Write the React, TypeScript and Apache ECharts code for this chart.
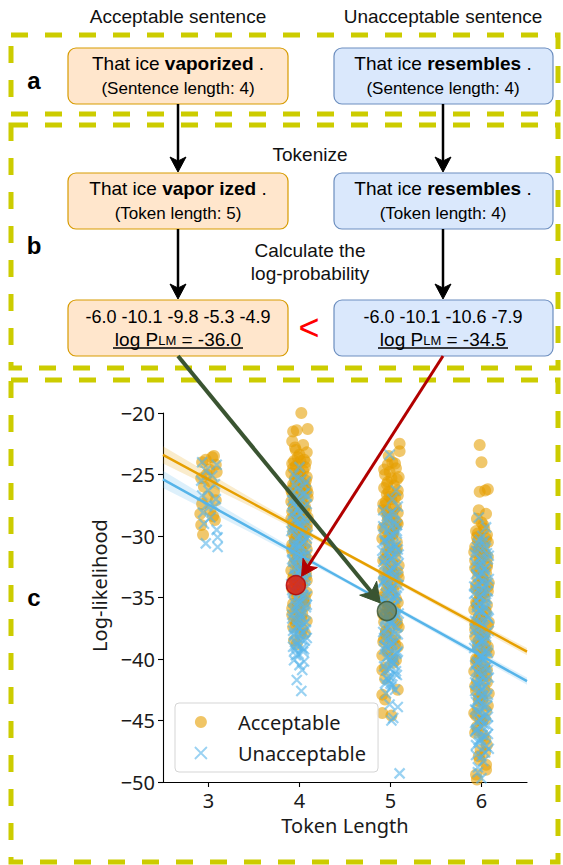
import React, { useEffect, useRef } from "react";
import * as echarts from "echarts";

// ---------------- data ----------------
const columnTitles = ["Acceptable sentence", "Unacceptable sentence"];
const panelLabels = ["a", "b", "c"];
const sentencePrefix = "That ice ";
const acceptableWord = "vaporized";
const unacceptableWord = "resembles";
const acceptableTokens = "vapor ized";
const sentenceLengths = [4, 4];
const tokenLengths = [5, 4];
const acceptableTokenLogProbs = [-6.0, -10.1, -9.8, -5.3, -4.9];
const unacceptableTokenLogProbs = [-6.0, -10.1, -10.6, -7.9];
const sentenceLogProbs = [-36.0, -34.5];
const stepLabels = ["Tokenize", "Calculate the", "log-probability"];

const seriesNames = ["Acceptable", "Unacceptable"];
const xTickValues = [3, 4, 5, 6];
const fitX = [2.5, 3.5, 4.5, 5.5, 6.5];
const acceptableFit = [-23.4, -27.4, -31.4, -35.4, -39.4];
const acceptableCI = [0.7, 0.35, 0.15, 0.2, 0.3];
const unacceptableFit = [-25.4, -29.5, -33.6, -37.7, -41.8];
const unacceptableCI = [0.7, 0.35, 0.15, 0.2, 0.3];

// highlighted example sentences: [token length (jittered), log-likelihood]
const highlightUnacceptable = [3.96, -34.0];
const highlightAcceptable = [4.96, -36.1];

const acceptable3 = [
  [3.06, -23.5], [2.97, -23.8], [3.08, -24.2], [2.93, -24.0], [3.01, -24.6], [3.09, -24.8], [2.92, -25.3],
  [3.03, -25.6], [2.95, -26.0], [3.06, -26.4], [2.99, -26.8], [3.08, -27.1], [2.93, -27.4], [3.02, -27.9],
  [2.91, -28.2], [3.05, -28.4], [3.07, -28.7], [2.92, -29.1], [2.94, -29.9], [3.04, -23.6], [2.98, -25.0],
];
const unacceptable3 = [
  [2.93, -24.0], [3.09, -24.2], [2.97, -24.7], [3.04, -25.1], [2.92, -25.5], [3.07, -25.8], [3.0, -26.3],
  [2.93, -26.7], [3.08, -27.0], [2.98, -27.5], [3.07, -27.6], [2.94, -28.1], [3.02, -28.5], [2.95, -29.0],
  [3.09, -29.5], [3.1, -30.1], [2.97, -30.6], [3.1, -30.9],
];
const acceptable4 = [
  [4.02, -20.0], [3.93, -21.5], [3.97, -21.4], [4.09, -21.3], [3.92, -22.3], [3.95, -22.8], [4.0, -23.4],
  [4.07, -24.0], [3.94, -23.9], [4.08, -23.2], [3.96, -24.3], [4.04, -24.7], [3.91, -24.9], [4.0, -24.8],
  [4.08, -25.2], [3.99, -25.4], [3.95, -25.3], [3.93, -25.8], [4.06, -25.9], [4.06, -26.1], [4.01, -26.3],
  [3.92, -26.5], [3.98, -26.7], [4.09, -26.9], [3.97, -27.1], [4.04, -27.3], [4.03, -27.5], [3.94, -27.7],
  [4.07, -27.9], [3.92, -28.0], [3.99, -28.3], [3.91, -28.6], [4.05, -28.8], [3.96, -29.2], [4.08, -29.4],
  [3.93, -29.8], [4.02, -30.1], [3.95, -30.4], [4.07, -30.6], [3.92, -31.0], [4.03, -31.3], [3.98, -31.5],
  [4.09, -31.9], [3.94, -32.2], [4.05, -32.4], [3.91, -32.8], [4.0, -33.1], [4.07, -33.3], [3.95, -33.7],
  [4.03, -33.9], [3.92, -34.3], [4.08, -34.6], [3.97, -34.8], [4.04, -35.2], [3.93, -35.5], [4.06, -35.7],
  [3.99, -36.1], [3.92, -36.4], [4.08, -36.9], [3.96, -37.2], [4.03, -37.6], [4.01, -38.0], [3.94, -38.5],
  [3.97, -38.8], [3.98, -23.6], [4.05, -23.8], [3.93, -24.5], [4.01, -25.0], [4.07, -25.5], [3.96, -25.6],
  [4.03, -26.0], [3.91, -26.3], [4.09, -26.5], [4.0, -26.9], [3.94, -27.3], [4.06, -27.6], [3.98, -28.1],
  [4.02, -28.4], [3.93, -28.9], [4.08, -29.1], [3.99, -29.6], [4.04, -30.0], [3.95, -30.2], [4.01, -30.8],
  [3.92, -31.2], [4.06, -31.6], [3.97, -32.0], [4.03, -32.6], [3.94, -33.2], [4.08, -33.6], [3.99, -34.1],
  [3.95, -34.9], [4.05, -35.4], [3.92, -35.9], [4.02, -36.6], [3.97, -37.0], [4.06, -37.9], [3.93, -37.4],
  [4.04, -22.6], [3.96, -23.0], [4.01, -23.9], [3.92, -24.1], [4.06, -24.4], [3.98, -25.1], [4.03, -25.7],
  [3.94, -26.0], [4.08, -26.2], [3.97, -26.6], [4.02, -27.0], [3.91, -27.2], [4.05, -27.8], [3.96, -28.2],
  [4.09, -28.5], [4.0, -28.7], [3.93, -29.3], [4.06, -29.7], [3.97, -30.0], [4.03, -30.3], [3.92, -30.7],
  [4.08, -31.1], [3.99, -31.4], [3.95, -31.8], [4.04, -32.3], [3.98, -32.7], [4.07, -33.0], [3.93, -33.4],
  [4.01, -33.8], [3.96, -34.5], [4.06, -35.0], [3.98, -35.6], [4.03, -36.3], [3.94, -36.8],
];
const unacceptable4 = [
  [4.0, -24.4], [3.94, -25.0], [4.07, -25.6], [3.97, -26.2], [4.04, -26.6], [3.95, -26.9], [3.92, -27.1],
  [4.08, -27.4], [3.99, -27.8], [3.93, -28.1], [4.05, -28.5], [3.96, -28.9], [4.0, -29.0], [4.02, -29.2],
  [3.91, -29.6], [4.09, -29.9], [3.98, -30.3], [4.04, -30.5], [3.94, -30.9], [3.96, -31.0], [4.07, -31.2],
  [4.0, -31.6], [3.92, -31.9], [4.05, -32.2], [3.97, -32.6], [4.08, -32.9], [4.03, -33.0], [3.95, -33.3],
  [4.02, -33.5], [3.91, -33.9], [4.06, -34.3], [3.99, -34.6], [4.03, -35.0], [3.93, -35.3], [3.99, -35.5],
  [4.08, -35.6], [3.96, -36.0], [4.01, -36.3], [3.92, -36.7], [4.07, -37.0], [3.98, -37.4], [4.01, -37.5],
  [4.04, -37.8], [3.94, -38.1], [4.06, -38.5], [3.97, -38.9], [3.93, -39.0], [3.95, -39.3], [4.04, -39.4],
  [4.05, -40.2], [4.03, -40.9], [3.97, -41.7], [4.02, -42.6], [3.97, -25.3], [4.05, -25.9], [3.93, -26.4],
  [4.08, -26.8], [4.0, -27.2], [3.95, -27.6], [4.04, -28.0], [3.92, -28.3], [4.07, -28.7], [3.99, -29.1],
  [3.94, -29.5], [4.03, -29.8], [4.08, -30.2], [3.96, -30.6], [4.01, -30.8], [3.92, -31.3], [4.05, -31.6],
  [3.98, -32.0], [4.08, -32.4], [3.94, -32.7], [4.01, -33.2], [4.06, -33.6], [3.97, -34.0], [3.92, -34.4],
  [4.04, -34.8], [3.99, -35.2], [4.07, -35.8], [3.94, -36.1], [4.02, -36.5], [3.97, -36.9], [4.05, -37.2],
  [3.93, -37.7], [4.0, -38.0], [4.08, -38.3], [3.96, -38.6], [4.03, -39.1], [3.99, -39.6], [3.94, -40.1],
  [4.02, -25.4], [3.95, -25.8], [4.06, -26.5], [3.98, -27.0], [3.93, -27.4], [4.04, -27.7], [4.0, -28.2],
  [3.96, -28.6], [4.07, -29.0], [3.92, -29.3], [4.03, -29.7], [3.98, -30.1], [4.06, -30.4], [3.94, -30.7],
  [4.01, -31.1], [4.08, -31.5], [3.97, -31.8], [3.93, -32.1], [4.04, -32.5], [4.0, -32.8], [3.95, -33.1],
  [4.07, -33.4], [3.98, -33.8], [4.03, -34.2], [3.94, -34.5], [4.08, -34.9], [4.0, -35.4], [3.96, -35.7],
  [4.05, -36.2], [3.92, -36.4], [4.01, -36.8], [3.97, -37.3], [4.07, -37.6], [3.94, -38.0], [4.02, -38.4],
  [3.98, -38.8], [4.05, -39.2], [3.96, -39.7], [4.0, -40.5],
];
const acceptable5 = [
  [5.1, -22.5], [5.1, -23.1], [4.97, -24.2], [5.06, -24.5], [4.99, -24.8], [5.09, -25.2], [4.97, -25.6],
  [5.04, -25.9], [4.93, -26.1], [4.98, -26.4], [5.08, -26.7], [5.01, -27.0], [4.95, -27.2], [5.06, -27.6],
  [4.92, -27.9], [4.96, -28.0], [5.02, -28.3], [4.97, -28.7], [5.08, -29.0], [5.05, -29.2], [4.94, -29.4],
  [5.03, -29.8], [4.99, -30.0], [4.91, -30.2], [5.07, -30.5], [4.99, -30.9], [4.95, -31.3], [5.05, -31.7],
  [4.92, -32.0], [5.09, -32.4], [4.98, -32.8], [5.03, -33.1], [4.93, -33.5], [5.07, -33.9], [4.96, -34.3],
  [5.01, -34.7], [4.91, -35.0], [5.08, -35.4], [4.97, -35.8], [5.04, -36.5], [4.93, -37.0], [5.09, -37.4],
  [4.95, -37.8], [5.05, -38.3], [4.92, -38.6], [5.08, -39.0], [4.91, -39.7], [5.03, -40.3], [4.94, -40.7],
  [4.91, -40.9], [4.94, -41.6], [5.08, -42.5], [4.91, -42.9], [4.94, -43.3], [4.91, -44.4], [5.01, -44.6],
  [5.02, -24.0], [4.94, -25.0], [5.07, -25.4], [4.96, -26.6], [5.05, -26.9], [4.92, -27.4], [5.08, -28.1],
  [4.99, -28.5], [5.03, -29.6], [4.95, -30.3], [5.07, -31.0], [4.97, -31.5], [5.02, -32.2], [4.93, -32.9],
  [5.09, -33.4], [5.0, -34.0], [4.94, -34.6], [5.06, -35.1], [4.98, -35.6], [5.03, -36.1], [4.92, -36.4],
  [5.07, -36.9], [4.99, -37.5], [4.95, -38.0], [5.05, -38.8], [4.97, -39.3], [5.02, -39.9], [4.93, -38.4],
  [4.98, -23.5], [5.05, -24.1], [4.93, -24.6], [5.01, -25.3], [4.96, -25.8], [5.08, -26.3], [4.99, -26.8],
  [4.94, -27.5], [5.04, -27.8], [4.97, -28.4], [5.07, -28.9], [4.92, -29.3], [5.02, -29.9], [4.98, -30.6],
  [5.06, -31.2], [4.94, -31.9], [5.01, -32.5], [5.08, -33.0], [4.96, -33.7], [5.03, -34.4], [4.93, -35.2],
  [5.05, -35.9], [4.99, -36.6], [5.07, -37.2], [4.95, -37.7], [5.02, -38.5], [4.97, -39.4], [5.06, -40.1],
];
const unacceptable5 = [
  [4.99, -23.4], [5.06, -26.3], [5.02, -27.0], [5.08, -27.6], [4.92, -27.9], [5.05, -28.2], [4.97, -28.6],
  [5.04, -29.0], [4.93, -29.4], [5.07, -29.8], [4.99, -30.1], [4.95, -30.5], [5.05, -30.9], [5.0, -31.0],
  [4.91, -31.2], [5.09, -31.5], [5.0, -31.9], [4.94, -32.3], [5.03, -32.6], [4.97, -33.0], [5.08, -33.3],
  [4.96, -33.5], [4.92, -33.7], [5.02, -34.1], [4.96, -34.4], [5.06, -34.8], [5.03, -35.0], [4.93, -35.2],
  [5.04, -35.6], [4.98, -35.9], [5.09, -36.3], [4.94, -36.7], [4.99, -36.8], [5.01, -37.0], [5.07, -37.4],
  [4.92, -37.8], [4.99, -38.2], [5.05, -38.6], [4.94, -38.9], [4.95, -39.0], [5.08, -39.4], [4.97, -39.8],
  [5.04, -40.0], [5.02, -40.2], [4.93, -40.6], [5.06, -41.0], [4.98, -41.4], [5.0, -42.0], [4.95, -42.8],
  [4.99, -43.7], [5.08, -43.9], [5.03, -44.8], [5.01, -45.0], [5.1, -49.3], [4.96, -28.4], [5.04, -28.8],
  [4.92, -29.2], [5.07, -29.6], [4.99, -30.0], [4.94, -30.3], [5.03, -30.7], [5.08, -31.1], [4.96, -31.4],
  [5.01, -31.8], [4.92, -32.1], [5.06, -32.5], [4.98, -32.9], [5.04, -33.2], [4.93, -33.6], [5.09, -34.0],
  [5.0, -34.3], [4.95, -34.7], [5.05, -35.1], [4.97, -35.4], [5.02, -35.8], [4.92, -36.1], [5.07, -36.5],
  [4.99, -36.9], [5.04, -37.3], [4.94, -37.6], [5.08, -38.0], [4.97, -38.4], [5.02, -38.8], [4.93, -39.2],
  [5.06, -39.6], [4.99, -40.0], [5.03, -40.4], [4.95, -40.9], [5.07, -41.3], [4.98, -41.7], [5.01, -42.3],
  [4.94, -42.0], [5.05, -42.5], [5.01, -28.1], [4.95, -28.7], [5.07, -29.1], [4.98, -29.5], [5.03, -29.9],
  [4.93, -30.4], [5.06, -30.8], [4.99, -31.2], [5.04, -31.6], [4.94, -31.9], [5.08, -32.3], [5.0, -32.7],
  [4.96, -33.1], [5.05, -33.4], [4.92, -33.8], [5.02, -34.2], [4.98, -34.6], [5.07, -34.9], [4.94, -35.3],
  [5.03, -35.7], [4.99, -36.0], [5.06, -36.4], [4.95, -36.8], [5.01, -37.2], [4.97, -37.5], [5.05, -37.9],
  [4.93, -38.3], [5.02, -38.7], [4.98, -39.1], [5.07, -39.5], [4.95, -39.9], [5.03, -40.3], [4.99, -40.8],
  [5.05, -41.2], [4.96, -41.6], [5.02, -42.1],
];
const acceptable6 = [
  [5.98, -22.6], [6.0, -24.0], [5.98, -26.4], [6.04, -26.3], [6.07, -26.2], [5.97, -27.9], [6.05, -28.2],
  [5.95, -28.6], [6.02, -29.1], [5.94, -29.6], [6.06, -29.9], [5.96, -30.4], [6.03, -30.8], [5.99, -31.0],
  [5.92, -31.3], [6.07, -31.7], [5.99, -32.1], [5.93, -32.6], [6.05, -33.0], [6.01, -33.2], [5.96, -33.4],
  [6.08, -33.8], [5.94, -34.3], [6.02, -34.7], [5.97, -35.2], [6.06, -35.6], [5.96, -35.8], [5.92, -36.0],
  [6.01, -36.5], [5.95, -36.9], [6.07, -37.3], [5.98, -37.8], [6.03, -38.0], [5.93, -38.2], [6.04, -38.7],
  [5.96, -39.1], [6.08, -39.5], [5.94, -40.0], [6.03, -40.5], [5.98, -40.8], [5.92, -41.0], [6.05, -41.4],
  [5.93, -42.2], [6.08, -42.8], [6.0, -43.0], [5.97, -43.4], [5.92, -44.4], [6.04, -44.9], [5.95, -45.5],
  [6.02, -46.2], [6.06, -47.0], [5.97, -47.9], [6.05, -48.6], [5.94, -49.4], [5.95, -49.8], [6.03, -29.4],
  [5.95, -30.1], [6.07, -30.5], [5.97, -31.1], [6.04, -31.5], [5.93, -32.0], [6.06, -32.5], [5.98, -32.9],
  [6.02, -33.6], [5.94, -34.0], [6.07, -34.5], [5.99, -34.9], [5.95, -35.5], [6.04, -36.1], [5.97, -36.6],
  [6.08, -37.0], [5.93, -37.6], [6.02, -38.4], [5.96, -38.9], [6.05, -39.3], [5.98, -39.8], [5.94, -40.3],
  [6.06, -40.9], [6.0, -41.3], [5.95, -41.8], [6.03, -42.4], [5.97, -43.1], [6.07, -43.8], [5.94, -44.6],
  [6.01, -45.1], [5.96, -45.8], [6.04, -46.5], [5.99, -47.4], [6.05, -49.0], [6.0, -28.9], [5.96, -29.8],
  [6.05, -30.2], [5.93, -30.9], [6.02, -31.4], [5.98, -31.9], [6.06, -32.3], [5.95, -32.8], [6.01, -33.5],
  [6.07, -34.1], [5.97, -34.6], [6.03, -35.0], [5.94, -35.4], [6.05, -36.2], [5.99, -36.8], [5.93, -37.2],
  [6.04, -37.9], [5.97, -38.5], [6.07, -39.0], [6.0, -39.6], [5.95, -40.1], [6.03, -40.6], [5.98, -41.2],
  [6.06, -41.9], [5.94, -42.6], [6.01, -43.3], [5.96, -44.0], [6.05, -44.2], [5.99, -45.0], [5.93, -46.0],
  [6.04, -47.6], [5.98, -48.2],
];
const unacceptable6 = [
  [6.01, -30.0], [5.96, -30.6], [6.05, -31.0], [5.93, -31.5], [6.07, -31.9], [5.99, -32.3], [6.03, -32.7],
  [5.94, -33.1], [6.08, -33.5], [5.97, -33.9], [6.04, -34.0], [6.02, -34.3], [5.92, -34.7], [6.06, -35.1],
  [5.98, -35.5], [6.04, -35.9], [5.98, -36.0], [5.95, -36.3], [6.08, -36.7], [6.0, -37.1], [5.93, -37.5],
  [6.05, -37.9], [5.97, -38.3], [6.01, -38.5], [6.03, -38.7], [5.92, -39.1], [6.07, -39.5], [5.99, -39.9],
  [6.02, -40.0], [5.95, -40.3], [6.04, -40.7], [5.96, -41.1], [6.08, -41.5], [5.93, -41.9], [5.95, -42.0],
  [6.02, -42.3], [5.98, -42.7], [6.06, -43.1], [5.94, -43.5], [6.03, -43.9], [5.97, -44.3], [6.07, -44.7],
  [5.95, -45.1], [6.01, -45.5], [5.93, -45.9], [6.05, -46.3], [5.97, -46.8], [6.08, -47.3], [5.94, -47.8],
  [6.02, -48.3], [5.96, -48.8], [6.0, -49.7], [5.98, -30.3], [6.04, -30.8], [5.94, -31.2], [6.08, -31.6],
  [6.0, -32.0], [5.95, -32.5], [6.05, -32.9], [5.97, -33.3], [6.02, -33.7], [5.92, -34.1], [6.07, -34.5],
  [5.99, -34.9], [5.94, -35.3], [6.04, -35.7], [5.97, -36.1], [6.06, -36.5], [5.93, -36.9], [6.01, -37.3],
  [6.08, -37.7], [5.96, -38.1], [6.03, -38.5], [5.94, -38.9], [6.06, -39.3], [5.98, -39.7], [6.02, -40.1],
  [5.93, -40.5], [6.07, -40.9], [5.99, -41.3], [6.04, -41.7], [5.95, -42.1], [6.0, -42.5], [6.07, -42.9],
  [5.96, -43.3], [6.02, -43.7], [5.93, -44.1], [6.05, -44.5], [5.98, -44.9], [6.03, -45.3], [5.95, -45.7],
  [6.07, -46.1], [5.99, -46.5], [5.94, -47.0], [6.04, -47.6], [5.97, -28.5], [6.05, -29.3], [6.03, -30.4],
  [5.95, -30.9], [6.06, -31.4], [5.98, -31.8], [5.93, -32.2], [6.04, -32.6], [6.0, -33.0], [5.96, -33.4],
  [6.07, -33.8], [5.94, -34.2], [6.02, -34.6], [5.98, -35.0], [6.05, -35.4], [5.95, -35.8], [6.01, -36.2],
  [6.07, -36.6], [5.97, -37.0], [6.03, -37.4], [5.93, -37.8], [6.05, -38.2], [5.99, -38.6], [5.95, -39.0],
  [6.04, -39.4], [6.0, -39.8], [5.96, -40.2], [6.06, -40.6], [5.94, -41.0], [6.02, -41.4], [5.98, -41.8],
  [6.05, -42.2], [5.93, -42.6], [6.01, -43.0], [5.97, -43.4], [6.06, -43.8], [5.95, -44.2], [6.03, -44.6],
  [5.99, -45.0], [6.07, -45.4], [5.94, -45.8], [6.01, -46.2], [5.97, -46.6], [6.05, -47.1], [6.0, -47.9],
  [5.96, -49.2],
];

// ---------------- styles ----------------
const ORANGE = "#E69F00";
const BLUE = "#56B4E9";
const DASH = "#CCCC00";
const BOX_ORANGE = { fill: "#FFE6CC", stroke: "#D79B00" };
const BOX_BLUE = { fill: "#DAE8FC", stroke: "#6C8EBF" };
const SANS = "'Liberation Sans', Arial, Helvetica, sans-serif";
const PLOT_FONT = "'Noto Sans', 'Open Sans', sans-serif";
const X_PATH = "path://M0,0L10,10M10,0L0,10";

const fmt = (v: number) => v.toFixed(1);
const minus = (v: number) => (v < 0 ? "\u2212" + Math.abs(v) : String(v));

function arrowParts(x1: number, y1: number, tx: number, ty: number, color: string, lw: number, L: number, Wd: number, N: number) {
  const dx = tx - x1, dy = ty - y1;
  const len = Math.hypot(dx, dy);
  const ux = dx / len, uy = dy / len;
  const nx = -uy, ny = ux;
  const pts = [
    [tx, ty],
    [tx - L * ux + Wd * nx, ty - L * uy + Wd * ny],
    [tx - (L - N) * ux, ty - (L - N) * uy],
    [tx - L * ux - Wd * nx, ty - L * uy - Wd * ny],
  ];
  return [
    { type: "line", z: 100, shape: { x1, y1, x2: tx - (L - N) * ux, y2: ty - (L - N) * uy }, style: { stroke: color, lineWidth: lw } },
    { type: "polygon", z: 101, shape: { points: pts }, style: { fill: color, stroke: color, lineWidth: 1 } },
  ];
}

function box(x: number, y: number, w: number, h: number, c: { fill: string; stroke: string }) {
  return { type: "rect", z: 90, shape: { x, y, width: w, height: h, r: 8 }, style: { fill: c.fill, stroke: c.stroke, lineWidth: 1.2 } };
}

function richLine(x: number, y: number, parts: [string, string][], size: number) {
  return {
    type: "text",
    z: 100,
    x,
    y,
    style: {
      text: parts.map(([k, t]) => `{${k}|${t}}`).join(""),
      align: "center",
      verticalAlign: "middle",
      fontFamily: SANS,
      fontSize: size,
      fill: "#000",
      rich: {
        n: { fontFamily: SANS, fontSize: size, fill: "#000", verticalAlign: "bottom" },
        b: { fontFamily: SANS, fontSize: size, fontWeight: "bold", fill: "#000", verticalAlign: "bottom" },
        s: { fontFamily: SANS, fontSize: Math.round(size * 0.68), fill: "#000", verticalAlign: "bottom", padding: [0, 0, 2, 0] },
      },
    },
  };
}

function plainText(x: number, y: number, text: string, size: number, extra: any = {}) {
  return {
    type: "text",
    z: 100,
    x,
    y,
    style: { text, align: "center", verticalAlign: "middle", fontFamily: SANS, fontSize: size, fill: "#000", ...extra },
  };
}

function dashedPanel(x: number, y: number, w: number, h: number) {
  return { type: "rect", z: 80, shape: { x, y, width: w, height: h }, style: { fill: "none", stroke: DASH, lineWidth: 5, lineDash: [17, 17] } };
}

function bandSeries(name: string, fit: number[], ci: number[], fill: string) {
  return {
    name,
    type: "custom",
    coordinateSystem: "cartesian2d",
    silent: true,
    data: [[fitX[0], fit[0]]],
    renderItem: (_p: any, api: any) => {
      const upper = fitX.map((x, i) => api.coord([x, fit[i] + ci[i]]));
      const lower = fitX.map((x, i) => api.coord([x, fit[i] - ci[i]])).reverse();
      return { type: "polygon", shape: { points: [...upper, ...lower] }, style: { fill } };
    },
  };
}

export default function App() {
  const ref = useRef<HTMLDivElement>(null);

  useEffect(() => {
    document.body.style.margin = "0";
    if (!ref.current) return;
    const chart = echarts.init(ref.current, null, { renderer: "svg" });

    const axisLine = { lineStyle: { color: "#000", width: 1.1 } };
    const option: any = {
      animation: false,
      backgroundColor: "#fff",
      grid: { left: 163, top: 413, width: 364, height: 369 },
      xAxis: {
        type: "value",
        min: 2.5,
        max: 6.5,
        axisLine: { show: true, onZero: false, ...axisLine },
        axisTick: { show: true, customValues: xTickValues, length: 5, lineStyle: { color: "#000", width: 1.1 } },
        axisLabel: { customValues: xTickValues, fontSize: 20, lineHeight: 20, fontFamily: PLOT_FONT, color: "#1a1a1a", margin: 8 },
        splitLine: { show: false },
        name: "Token Length",
        nameLocation: "middle",
        nameGap: 33,
        nameTextStyle: { fontSize: 20, lineHeight: 20, fontFamily: PLOT_FONT, color: "#1a1a1a" },
      },
      yAxis: {
        type: "value",
        min: -50,
        max: -20,
        interval: 5,
        axisLine: { show: true, onZero: false, ...axisLine },
        axisTick: { show: true, length: 5, lineStyle: { color: "#000", width: 1.1 } },
        axisLabel: { formatter: (v: number) => minus(v), fontSize: 20, fontFamily: PLOT_FONT, color: "#1a1a1a", margin: 8 },
        splitLine: { show: false },
        name: "Log-likelihood",
        nameLocation: "middle",
        nameGap: 46,
        nameRotate: 90,
        nameTextStyle: { fontSize: 20, fontFamily: PLOT_FONT, color: "#1a1a1a", padding: [0, 0, 0, 24] },
      },
      legend: {
        left: 175,
        top: 703,
        orient: "vertical",
        padding: [7, 12, 7, 19],
        itemWidth: 30,
        itemHeight: 12,
        itemGap: 7,
        backgroundColor: "rgba(255,255,255,0.85)",
        borderColor: "#d5d5d5",
        borderWidth: 1,
        borderRadius: 4,
        selectedMode: false,
        textStyle: { fontSize: 20, fontFamily: PLOT_FONT, color: "#1a1a1a", padding: [0, 0, 0, 17], lineHeight: 24 },
        data: [
          { name: seriesNames[0], icon: "circle", itemStyle: { color: ORANGE, opacity: 0.6 } },
          { name: seriesNames[1], icon: X_PATH, itemStyle: { color: "rgba(0,0,0,0)", borderColor: BLUE, borderWidth: 1.8, opacity: 0.6 } },
        ],
      },
      series: [
        {
          name: seriesNames[0],
          type: "scatter",
          symbol: "circle",
          symbolSize: 12,
          itemStyle: { color: ORANGE, opacity: 0.58 },
          data: [...acceptable3, ...acceptable4, ...acceptable5, ...acceptable6],
        },
        bandSeries("Acceptable CI", acceptableFit, acceptableCI, "rgba(230,159,0,0.2)"),
        {
          name: "Acceptable fit",
          type: "line",
          showSymbol: false,
          silent: true,
          lineStyle: { color: ORANGE, width: 2.5 },
          data: fitX.map((x, i) => [x, acceptableFit[i]]),
        },
        {
          name: seriesNames[1],
          type: "scatter",
          symbol: X_PATH,
          symbolSize: 10,
          itemStyle: { color: "rgba(0,0,0,0)", borderColor: BLUE, borderWidth: 2.2, opacity: 0.6 },
          data: [...unacceptable3, ...unacceptable4, ...unacceptable5, ...unacceptable6],
        },
        bandSeries("Unacceptable CI", unacceptableFit, unacceptableCI, "rgba(86,180,233,0.2)"),
        {
          name: "Unacceptable fit",
          type: "line",
          showSymbol: false,
          silent: true,
          lineStyle: { color: BLUE, width: 2.5 },
          data: fitX.map((x, i) => [x, unacceptableFit[i]]),
        },
        {
          name: "Examples",
          type: "scatter",
          z: 10,
          symbolSize: 19,
          data: [
            { value: highlightUnacceptable, itemStyle: { color: "#E51400", borderColor: "#B20000", borderWidth: 1.5 } },
            { value: highlightAcceptable, itemStyle: { color: "#6D8764", borderColor: "#3A5431", borderWidth: 1.5 } },
          ],
        },
      ],
    };
    chart.setOption(option);

    const pRed = chart.convertToPixel({ gridIndex: 0 }, highlightUnacceptable) as number[];
    const pGreen = chart.convertToPixel({ gridIndex: 0 }, highlightAcceptable) as number[];

    const cxL = 178, cxR = 443;
    const bw = 220, bh = 56;
    const rowsY = [48, 173, 300];
    const elements: any[] = [];

    // panels
    elements.push(dashedPanel(11, 35, 547, 79));
    elements.push(dashedPanel(11, 125, 547, 243));
    elements.push(dashedPanel(11, 380, 547, 482));

    // titles
    elements.push(plainText(cxL, 16, columnTitles[0], 19, { fill: "#111" }));
    elements.push(plainText(cxR, 16, columnTitles[1], 19, { fill: "#111" }));

    // panel labels
    elements.push(plainText(34, 80, panelLabels[0], 24, { fontWeight: "bold" }));
    elements.push(plainText(34, 245, panelLabels[1], 24, { fontWeight: "bold" }));
    elements.push(plainText(34, 597, panelLabels[2], 24, { fontWeight: "bold" }));

    // boxes
    for (const y of rowsY) {
      elements.push(box(cxL - bw / 2, y, bw, bh, BOX_ORANGE));
      elements.push(box(cxR - bw / 2 + 1, y, bw - 1, bh, BOX_BLUE));
    }

    // row a
    elements.push(richLine(cxL, 63, [["n", sentencePrefix], ["b", acceptableWord], ["n", " ."]], 19));
    elements.push(plainText(cxL, 88, `(Sentence length: ${sentenceLengths[0]})`, 17));
    elements.push(richLine(cxR, 63, [["n", sentencePrefix], ["b", unacceptableWord], ["n", " ."]], 19));
    elements.push(plainText(cxR, 88, `(Sentence length: ${sentenceLengths[1]})`, 17));

    // row b
    elements.push(richLine(cxL, 188, [["n", sentencePrefix], ["b", acceptableTokens], ["n", " ."]], 19));
    elements.push(plainText(cxL, 213, `(Token length: ${tokenLengths[0]})`, 17));
    elements.push(richLine(cxR, 188, [["n", sentencePrefix], ["b", unacceptableWord], ["n", " ."]], 19));
    elements.push(plainText(cxR, 213, `(Token length: ${tokenLengths[1]})`, 17));

    // row log-probs
    elements.push(plainText(cxL, 317, acceptableTokenLogProbs.map(fmt).join(" "), 18));
    elements.push(plainText(cxR, 317, unacceptableTokenLogProbs.map(fmt).join(" "), 18));
    elements.push(richLine(cxL, 339, [["n", "log P"], ["s", "LM"], ["n", ` = ${fmt(sentenceLogProbs[0])}`]], 19));
    elements.push(richLine(cxR, 339, [["n", "log P"], ["s", "LM"], ["n", ` = ${fmt(sentenceLogProbs[1])}`]], 19));
    elements.push({ type: "line", z: 100, shape: { x1: cxL - 65, y1: 348, x2: cxL + 65, y2: 348 }, style: { stroke: "#000", lineWidth: 1.5 } });
    elements.push({ type: "line", z: 100, shape: { x1: cxR - 65, y1: 348, x2: cxR + 65, y2: 348 }, style: { stroke: "#000", lineWidth: 1.5 } });
    elements.push(plainText(309, 327, "<", 36, { fill: "#FF0000" }));

    // step labels
    elements.push(plainText(310, 154, stepLabels[0], 19, { fill: "#111" }));
    elements.push(plainText(310, 250, stepLabels[1], 19, { fill: "#111" }));
    elements.push(plainText(310, 273, stepLabels[2], 19, { fill: "#111" }));

    // black arrows
    for (const cx of [cxL, cxR]) {
      elements.push(...arrowParts(cx, rowsY[0] + bh, cx, rowsY[1] - 1, "#000", 2.5, 15, 8, 4));
      elements.push(...arrowParts(cx, rowsY[1] + bh, cx, rowsY[2] - 1, "#000", 2.5, 15, 8, 4));
    }

    // arrows to highlighted points
    const toEdge = (sx: number, sy: number, p: number[], r: number) => {
      const dx = p[0] - sx, dy = p[1] - sy;
      const l = Math.hypot(dx, dy);
      return [p[0] - (dx / l) * r, p[1] - (dy / l) * r];
    };
    const gTip = toEdge(cxL, rowsY[2] + bh, pGreen, 10.5);
    const rTip = toEdge(cxR, rowsY[2] + bh, pRed, 10.5);
    elements.push(...arrowParts(cxL, rowsY[2] + bh, gTip[0], gTip[1], "#3A5431", 4, 19, 11, 5));
    elements.push(...arrowParts(cxR, rowsY[2] + bh, rTip[0], rTip[1], "#B20000", 3, 16, 8.5, 4));

    chart.setOption({ graphic: { elements } });

    return () => chart.dispose();
  }, []);

  return <div ref={ref} style={{ width: 563, height: 865, position: "absolute", left: 0, top: 0 }} />;
}
